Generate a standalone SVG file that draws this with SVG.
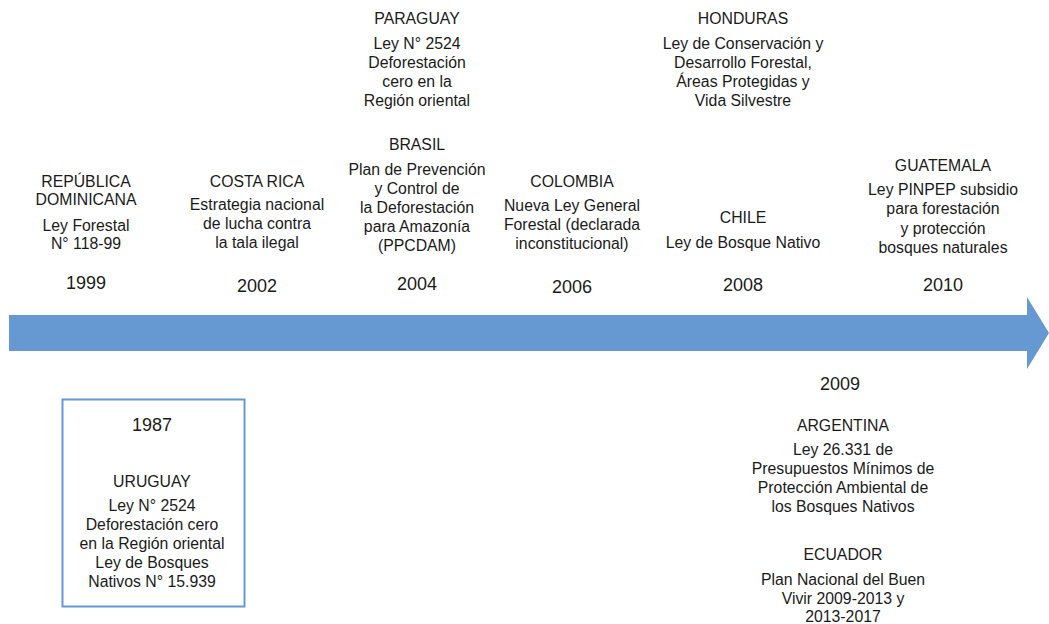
<svg xmlns="http://www.w3.org/2000/svg" width="1049" height="624" viewBox="0 0 1049 624">
<style>
text{font-family:"Liberation Sans",Arial,sans-serif;fill:#1a1a1a;text-anchor:middle}
.t{font-size:15.8px}
.y{font-size:18px}
</style>
<rect width="1049" height="624" fill="#fff"/>
<g id="connectors">
<polygon points="9,315 1027,315 1027,297 1049,333 1027,369 1027,351 9,351" fill="#6699d2"/>
</g>
<g id="n1999" class="t">
<text x="86" y="187">REPÚBLICA</text>
<text x="86" y="205">DOMINICANA</text>
<text x="86" y="231">Ley Forestal</text>
<text x="86" y="249">N° 118-99</text>
<text x="86" y="289" class="y">1999</text>
</g>
<g id="n2002" class="t">
<text x="257" y="187">COSTA RICA</text>
<text x="257" y="210">Estrategia nacional</text>
<text x="257" y="229">de lucha contra</text>
<text x="257" y="248">la tala ilegal</text>
<text x="257" y="292" class="y">2002</text>
</g>
<g id="n2004" class="t">
<text x="417" y="24">PARAGUAY</text>
<text x="417" y="49">Ley N° 2524</text>
<text x="417" y="68">Deforestación</text>
<text x="417" y="87">cero en la</text>
<text x="417" y="106">Región oriental</text>
<text x="417" y="150">BRASIL</text>
<text x="417" y="175">Plan de Prevención</text>
<text x="417" y="194">y Control de</text>
<text x="417" y="213">la Deforestación</text>
<text x="417" y="232">para Amazonía</text>
<text x="417" y="251">(PPCDAM)</text>
<text x="417" y="290" class="y">2004</text>
</g>
<g id="n2006" class="t">
<text x="572" y="187">COLOMBIA</text>
<text x="572" y="211">Nueva Ley General</text>
<text x="572" y="230">Forestal (declarada</text>
<text x="572" y="249">inconstitucional)</text>
<text x="572" y="293" class="y">2006</text>
</g>
<g id="n2008" class="t">
<text x="743" y="24">HONDURAS</text>
<text x="743" y="49">Ley de Conservación y</text>
<text x="743" y="68">Desarrollo Forestal,</text>
<text x="743" y="87">Áreas Protegidas y</text>
<text x="743" y="106">Vida Silvestre</text>
<text x="743" y="223">CHILE</text>
<text x="743" y="248">Ley de Bosque Nativo</text>
<text x="743" y="291" class="y">2008</text>
</g>
<g id="n2010" class="t">
<text x="943" y="171">GUATEMALA</text>
<text x="943" y="195">Ley PINPEP subsidio</text>
<text x="943" y="214">para forestación</text>
<text x="943" y="234">y protección</text>
<text x="943" y="253">bosques naturales</text>
<text x="943" y="291" class="y">2010</text>
</g>
<g id="n2009" class="t">
<text x="840" y="390" class="y">2009</text>
<text x="843" y="431">ARGENTINA</text>
<text x="843" y="455">Ley 26.331 de</text>
<text x="843" y="474">Presupuestos Mínimos de</text>
<text x="843" y="493">Protección Ambiental de</text>
<text x="843" y="512">los Bosques Nativos</text>
<text x="843" y="560">ECUADOR</text>
<text x="843" y="585">Plan Nacional del Buen</text>
<text x="843" y="604">Vivir 2009-2013 y</text>
<text x="843" y="622">2013-2017</text>
</g>
<g id="n1987" class="t">
<rect x="62.5" y="399.5" width="182" height="207" fill="#fff" stroke="#6699d2" stroke-width="2"/>
<text x="152" y="431" class="y">1987</text>
<text x="152" y="487">URUGUAY</text>
<text x="152" y="511">Ley N° 2524</text>
<text x="152" y="530">Deforestación cero</text>
<text x="152" y="549">en la Región oriental</text>
<text x="152" y="568">Ley de Bosques</text>
<text x="152" y="587">Nativos N° 15.939</text>
</g>
</svg>
